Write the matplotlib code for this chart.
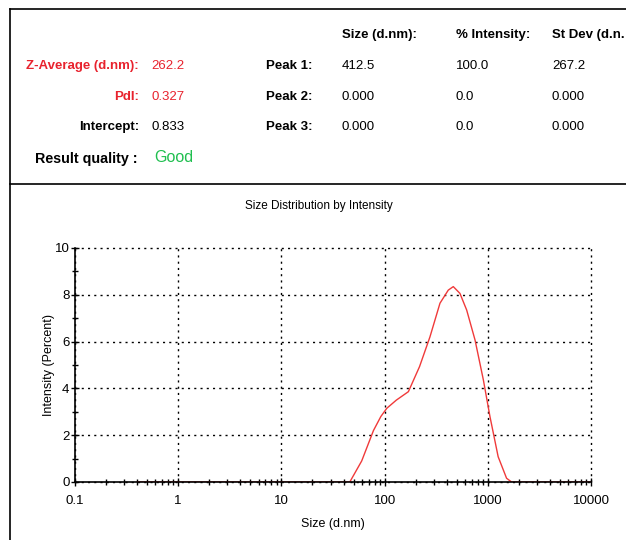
import matplotlib
matplotlib.use('Agg')
from matplotlib import pyplot as plt
from matplotlib.ticker import LogLocator, NullFormatter, FixedLocator

plt.rcParams['font.family'] = ['Liberation Sans Narrow', 'Liberation Sans', 'DejaVu Sans']

# size classes (d.nm) and intensity (%)
size_nm = [0.4, 46, 60, 78, 92, 105, 130, 170, 218, 275, 344, 414, 463, 537,
           624, 752, 906, 1050, 1260, 1520, 1700, 10000]
intensity = [0.0, 0.0, 0.9, 2.2, 2.8, 3.15, 3.5, 3.86, 4.93, 6.2, 7.64, 8.2, 8.35, 8.06,
             7.35, 6.07, 4.36, 2.79, 1.08, 0.16, 0.0, 0.0]

x_ticks = [0.1, 1, 10, 100, 1000, 10000]
x_labels = ['0.1', '1', '10', '100', '1000', '10000']
y_ticks = [0, 2, 4, 6, 8, 10]

# summary table
head = ['Size (d.nm):', '% Intensity:', 'St Dev (d.n.']
peaks = ['Peak 1:', 'Peak 2:', 'Peak 3:']
peak_size = ['412.5', '0.000', '0.000']
peak_int = ['100.0', '0.0', '0.0']
peak_sd = ['267.2', '0.000', '0.000']
left_lab = ['Z-Average (d.nm):', 'PdI:', 'Intercept:']
left_val = ['262.2', '0.327', '0.833']
left_col = ['#e8232e', '#e8232e', 'black']

W, H = 626, 540
fig = plt.figure(figsize=(W / 100, H / 100), dpi=100)

def fx(px):
    return px / W

def fy(py):
    return 1 - py / H

# frame lines
fig.add_artist(plt.Line2D([fx(10), 1], [fy(9), fy(9)], color='black', lw=1.2))
fig.add_artist(plt.Line2D([fx(10), 1], [fy(184), fy(184)], color='black', lw=1.2))
fig.add_artist(plt.Line2D([fx(10), fx(10)], [fy(9), 0], color='black', lw=1.2))

fs = 9.5
cols = [342, 456, 552]
for c, t in zip(cols, head):
    fig.text(fx(c), fy(35), t, fontsize=fs, fontweight='bold', va='center')
rows = [66, 97, 127]
for i, r in enumerate(rows):
    fig.text(fx(139), fy(r), left_lab[i], fontsize=fs, fontweight='bold',
             color=left_col[i], ha='right', va='center')
    fig.text(fx(151), fy(r), left_val[i], fontsize=fs, color=left_col[i], va='center')
    fig.text(fx(266), fy(r), peaks[i], fontsize=fs, fontweight='bold', va='center')
    fig.text(fx(cols[0]), fy(r), peak_size[i], fontsize=fs, va='center')
    fig.text(fx(cols[1]), fy(r), peak_int[i], fontsize=fs, va='center')
    fig.text(fx(cols[2]), fy(r), peak_sd[i], fontsize=fs, va='center')
fig.text(fx(35), fy(159), 'Result quality :', fontsize=10.3, fontweight='bold', va='center')
fig.text(fx(154), fy(158), 'Good', fontsize=11.5, color='#1fbf4f', va='center')

fig.text(fx(319), fy(206), 'Size Distribution by Intensity', fontsize=8.5, ha='center', va='center')

ax = fig.add_axes([fx(75), fy(482), fx(591) - fx(75), fy(248) - fy(482)])
ax.plot(size_nm, intensity, color='#f03a3a', lw=1)
ax.set_xscale('log')
ax.set_xlim(0.1, 10000)
ax.set_ylim(0, 10)
ax.xaxis.set_major_locator(FixedLocator(x_ticks))
ax.set_xticklabels(x_labels)
ax.xaxis.set_minor_locator(LogLocator(base=10, subs=range(2, 10)))
ax.xaxis.set_minor_formatter(NullFormatter())
ax.set_yticks(y_ticks)
ax.set_yticks([1, 3, 5, 7, 9], minor=True)
ax.tick_params(which='major', direction='inout', length=6, width=1, labelsize=9.5)
ax.tick_params(which='minor', direction='inout', length=5, width=1)
ax.tick_params(axis='x', pad=6)
ax.tick_params(axis='y', pad=1)
ax.grid(True, which='major', color='black', linestyle=(0, (1.5, 3)), lw=1)
for gl in ax.get_xgridlines() + ax.get_ygridlines():
    gl.set_clip_on(False)
ax.spines['top'].set_visible(False)
ax.spines['right'].set_visible(False)
ax.spines['bottom'].set_linewidth(1.2)
ax.spines['left'].set_linewidth(1.2)
ax.set_xlabel('Size (d.nm)', fontsize=9, labelpad=8)
ax.set_ylabel('Intensity (Percent)', fontsize=9, labelpad=0)

fig.savefig('out.png', dpi=100)
